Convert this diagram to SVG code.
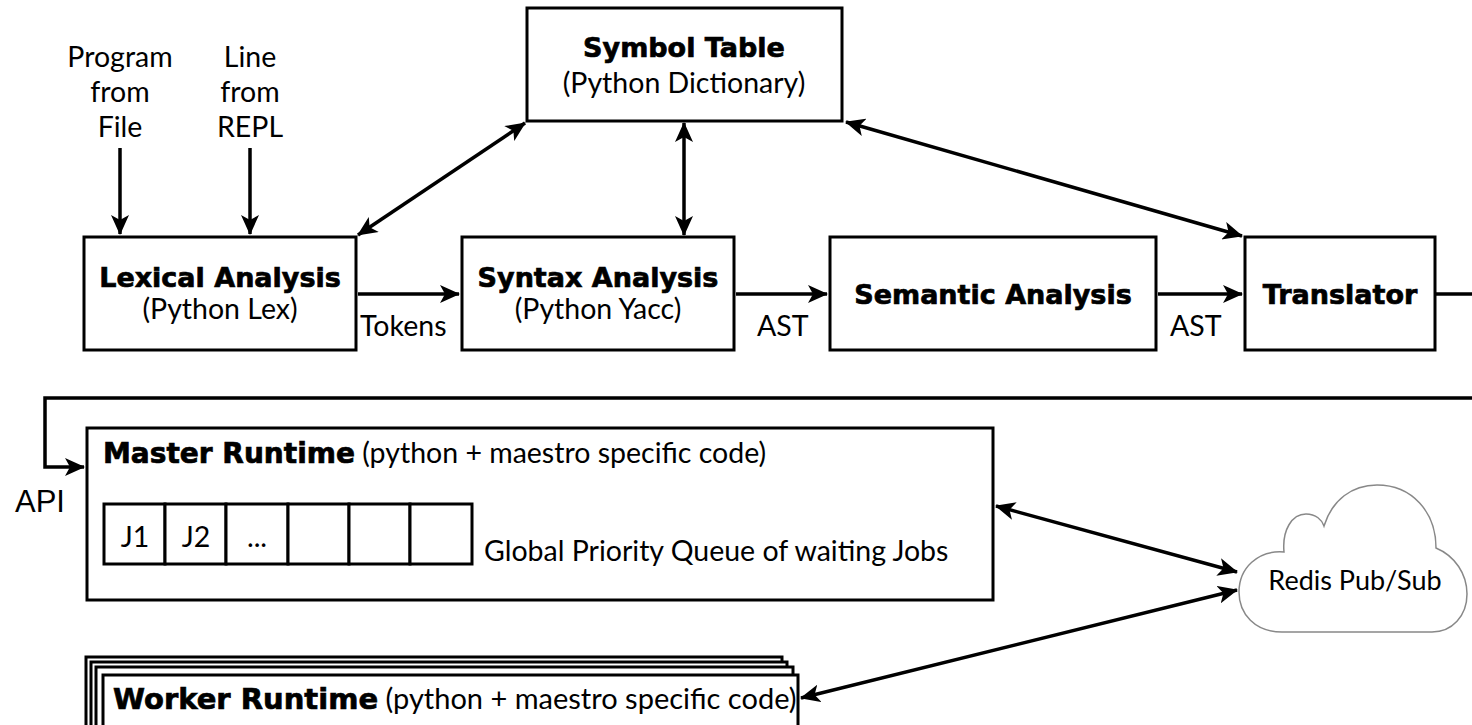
<svg xmlns="http://www.w3.org/2000/svg" width="1472" height="725" viewBox="0 0 1472 725">
<style>
  .box { fill: #fff; stroke: #000; stroke-width: 3; }
  .ln { fill: none; stroke: #000; stroke-width: 3.5; }
  .t { font-family: Lato, "Open Sans", sans-serif; font-size: 28.5px; fill: #000; }
  .b { font-family: "DejaVu Sans", "Liberation Sans", sans-serif; font-size: 27px; font-weight: bold; fill: #000; stroke: #000; stroke-width: 0.7; }
  .c { text-anchor: middle; }
  .api { font-family: "Liberation Sans", Arial, sans-serif; font-size: 31px; fill: #000; }
</style>
<defs>
  <marker id="ah" viewBox="0 0 20 18" refX="19" refY="9" markerWidth="20" markerHeight="18" markerUnits="userSpaceOnUse" orient="auto-start-reverse">
    <path d="M0,0 L20,9 L0,18 L5,9 Z" fill="#000"/>
  </marker>
</defs>
<rect width="1472" height="725" fill="#fff"/>

<g id="inputs">
  <text class="t c" x="120" y="67">Program</text>
  <text class="t c" x="120" y="102">from</text>
  <text class="t c" x="120" y="137">File</text>
  <text class="t c" x="250" y="67">Line</text>
  <text class="t c" x="250" y="102">from</text>
  <text class="t c" x="250" y="137">REPL</text>
</g>

<g id="symbol-table">
  <rect class="box" x="527" y="8" width="315" height="113"/>
  <text class="b c" x="684" y="57">Symbol Table</text>
  <text class="t c" x="684" y="93">(Python Dictionary)</text>
</g>

<g id="lexical">
  <rect class="box" x="84" y="237" width="272" height="113"/>
  <text class="b c" x="220" y="287">Lexical Analysis</text>
  <text class="t c" x="220" y="319">(Python Lex)</text>
</g>

<g id="syntax">
  <rect class="box" x="462" y="237" width="272" height="113"/>
  <text class="b c" x="598" y="287">Syntax Analysis</text>
  <text class="t c" x="598" y="319">(Python Yacc)</text>
</g>

<g id="semantic">
  <rect class="box" x="830" y="237" width="326" height="113"/>
  <text class="b c" x="993" y="304">Semantic Analysis</text>
</g>

<g id="translator">
  <rect class="box" x="1245" y="237" width="190" height="113"/>
  <text class="b c" x="1340" y="304">Translator</text>
</g>

<g id="master-runtime">
  <rect class="box" x="87" y="428" width="906" height="172"/>
  <text x="103" y="463"><tspan class="b" style="font-size:28px">Master Runtime</tspan><tspan class="t"> (python + maestro specific code)</tspan></text>
  <rect class="box" x="104" y="504" width="61" height="60"/>
  <rect class="box" x="165" y="504" width="61" height="60"/>
  <rect class="box" x="226" y="504" width="62" height="60"/>
  <rect class="box" x="288" y="504" width="61" height="60"/>
  <rect class="box" x="349" y="504" width="61" height="60"/>
  <rect class="box" x="410" y="504" width="62" height="60"/>
  <text class="t c" x="135" y="547">J1</text>
  <text class="t c" x="196" y="547">J2</text>
  <text class="t c" x="257" y="547">...</text>
  <text class="t" x="484" y="561">Global Priority Queue of waiting Jobs</text>
</g>

<g id="worker-runtime">
  <rect class="box" x="86" y="657" width="696" height="90"/>
  <rect class="box" x="91" y="662" width="696" height="90"/>
  <rect class="box" x="96" y="667" width="697" height="90"/>
  <rect class="box" x="103" y="675" width="695" height="90"/>
  <text x="113" y="709"><tspan class="b" style="font-size:29px">Worker Runtime</tspan><tspan class="t" style="font-size:29px"> (python + maestro specific code)</tspan></text>
</g>

<g id="redis">
  <path d="M1282,632 C1255,632 1239,614 1239,592 C1239,568 1258,550 1284,552 C1282,530 1292,514 1306,514 C1316,514 1322,520 1324,526 C1332,500 1352,485 1377,485 C1412,485 1436,512 1436,548 C1455,556 1467,574 1467,594 C1467,616 1452,632 1432,632 Z" fill="#fff" stroke="#888" stroke-width="1.5"/>
  <text class="t c" x="1355" y="590" style="font-size:27px">Redis Pub/Sub</text>
</g>

<g id="connectors">
  <line class="ln" x1="120" y1="148" x2="120" y2="234" marker-end="url(#ah)"/>
  <line class="ln" x1="250" y1="148" x2="250" y2="234" marker-end="url(#ah)"/>
  <line class="ln" x1="358" y1="235" x2="525" y2="123" marker-start="url(#ah)" marker-end="url(#ah)"/>
  <line class="ln" x1="684" y1="123" x2="684" y2="235" marker-start="url(#ah)" marker-end="url(#ah)"/>
  <line class="ln" x1="846" y1="122" x2="1242" y2="236" marker-start="url(#ah)" marker-end="url(#ah)"/>
  <line class="ln" x1="358" y1="294" x2="459" y2="294" marker-end="url(#ah)"/>
  <line class="ln" x1="736" y1="294" x2="827" y2="294" marker-end="url(#ah)"/>
  <line class="ln" x1="1158" y1="294" x2="1242" y2="294" marker-end="url(#ah)"/>
  <polyline class="ln" points="1436,294 1472,294"/>
  <polyline class="ln" points="1472,398 45,398 45,467 84,467" marker-end="url(#ah)"/>
  <line class="ln" x1="996" y1="506" x2="1237" y2="572" marker-start="url(#ah)" marker-end="url(#ah)"/>
  <line class="ln" x1="801" y1="698" x2="1237" y2="590" marker-start="url(#ah)" marker-end="url(#ah)"/>
  <text class="t" x="360" y="336">Tokens</text>
  <text class="t" x="757" y="336">AST</text>
  <text class="t" x="1170" y="336">AST</text>
  <text class="api" x="15" y="512">API</text>
</g>
</svg>
